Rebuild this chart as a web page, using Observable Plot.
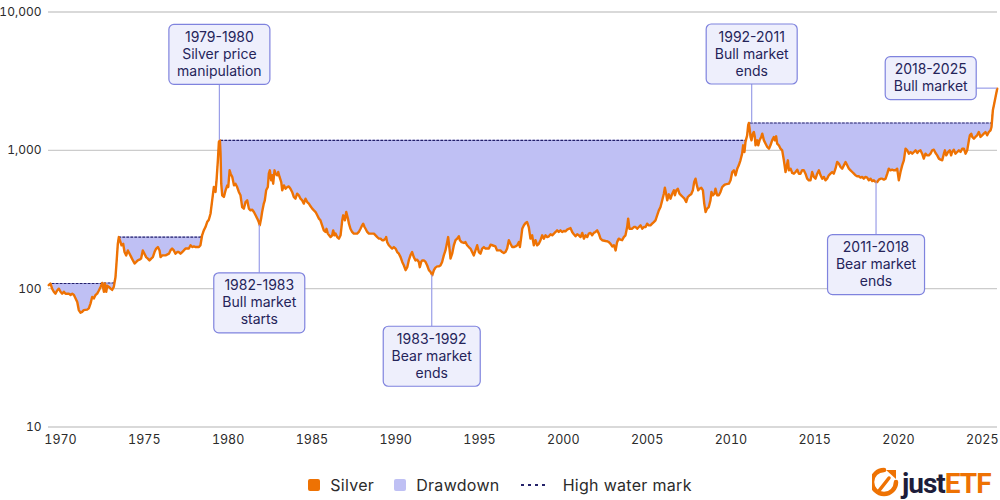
<!DOCTYPE html>
<html><head><meta charset="utf-8">
<script src="https://cdn.jsdelivr.net/npm/d3@7"></script>
<script src="https://cdn.jsdelivr.net/npm/@observablehq/plot@0.6"></script>
<style>
body{margin:0;background:#fff;font-family:Inter,"Noto Sans",sans-serif;}
#wrap{position:relative;width:1000px;height:500px;overflow:hidden;}
#legend{position:absolute;top:475px;left:0;width:1000px;display:flex;justify-content:center;align-items:center;font-size:16px;letter-spacing:0.3px;color:#2b2b2b;}
#legend .it{display:flex;align-items:center;margin:0 10px;}
#legend .sw{width:12px;height:12px;border-radius:2px;margin-right:10px;}
#logo{position:absolute;left:872px;top:466px;}
</style></head>
<body><div id="wrap"><div id="chart"></div>
<div id="legend">
 <div class="it"><div class="sw" style="background:#ee7203"></div>Silver</div>
 <div class="it"><div class="sw" style="background:#bfc0f4"></div>Drawdown</div>
 <div class="it"><svg width="26" height="12" style="margin-right:17px"><line x1="1" y1="6" x2="25" y2="6" stroke="#24226a" stroke-width="2" stroke-dasharray="3,4"/></svg>High water mark</div>
</div>
<div id="logo"><svg width="128" height="34">
 <path d="M12 4 A12 12 0 1 0 24 16" fill="none" stroke="#ee7203" stroke-width="4.5" stroke-linecap="round"/>
 <path d="M14 4 L24 4 L24 13 Z" fill="#ee7203"/>
 <path d="M6 26 L17 12" stroke="#ee7203" stroke-width="3.5" stroke-linecap="round"/>
 <text x="30" y="27" font-family="Roboto, sans-serif" font-weight="700" font-size="28" letter-spacing="-1" fill="#1d1d3a">just<tspan fill="#ee7203">ETF</tspan></text>
</svg></div>
</div>
<script>
const years = [
1969.30,1969.40,1969.50,1969.60,1969.70,1969.80,1969.90,1970.00,1970.10,1970.20,1970.30,1970.50,1970.60,1970.70,1970.80,1970.90,
1971.00,1971.09,1971.19,1971.29,1971.39,1971.59,1971.69,1971.79,1971.89,1971.99,1972.09,1972.19,1972.29,1972.39,1972.49,1972.59,
1972.65,1972.73,1972.79,1972.89,1972.99,1973.08,1973.18,1973.28,1973.34,1973.42,1973.48,1973.54,1973.64,1973.74,1973.82,1973.92,
1974.02,1974.12,1974.22,1974.32,1974.42,1974.52,1974.61,1974.71,1974.81,1974.91,1975.01,1975.11,1975.21,1975.31,1975.41,1975.51,
1975.61,1975.71,1975.81,1975.91,1975.97,1976.07,1976.27,1976.47,1976.56,1976.66,1976.76,1976.86,1976.96,1977.06,1977.16,1977.26,
1977.36,1977.46,1977.66,1977.76,1977.86,1977.96,1978.06,1978.26,1978.35,1978.45,1978.55,1978.65,1978.75,1978.85,1978.95,1979.05,
1979.15,1979.25,1979.31,1979.39,1979.45,1979.51,1979.55,1979.59,1979.65,1979.75,1979.85,1979.95,1980.01,1980.09,1980.15,1980.25,
1980.35,
1980.44,1980.54,1980.64,1980.74,1980.84,1980.94,1981.04,1981.14,1981.24,1981.34,1981.44,1981.54,1981.64,1981.74,1981.83,1981.89,
1981.97,1982.03,1982.13,1982.19,1982.27,1982.37,1982.43,1982.49,1982.57,1982.63,1982.69,1982.77,1982.83,1982.93,1982.99,1983.07,
1983.17,1983.23,1983.33,1983.43,1983.53,1983.62,1983.72,1983.82,1983.92,1984.02,1984.12,1984.22,1984.32,1984.42,1984.52,1984.62,
1984.72,1984.82,1984.92,1985.02,1985.12,1985.22,1985.32,1985.42,1985.51,1985.61,1985.71,1985.81,1985.87,1985.95,1986.11,1986.21,
1986.27,1986.35,1986.41,1986.51,1986.61,1986.71,1986.81,1986.87,1986.97,1987.05,1987.15,1987.21,1987.30,1987.40,1987.50,1987.60,
1987.70,1987.80,1987.90,1988.00,1988.06,1988.14,1988.20,1988.30,1988.40,1988.60,1988.70,1988.80,1988.90,1989.00,1989.10,1989.19,
1989.29,1989.39,1989.43,1989.49,1989.59,1989.69,1989.79,1989.89,1989.99,1990.09,1990.19,1990.29,1990.39,1990.49,1990.59,1990.69,
1990.78,1990.88,1990.98,1991.08,1991.18,1991.28,1991.38,1991.44,1991.52,1991.58,1991.68,1991.78,1991.88,1991.98,1992.08,
1992.18,1992.28,1992.37,1992.47,1992.57,1992.67,1992.77,1992.87,1992.97,1993.07,1993.13,1993.21,1993.27,1993.37,1993.47,1993.57,
1993.67,1993.77,1993.83,1993.93,1994.07,1994.16,1994.26,1994.36,1994.46,1994.56,1994.66,1994.76,1994.86,1994.96,1995.06,1995.16,
1995.26,1995.36,1995.46,1995.56,1995.66,1995.76,1995.95,1996.05,1996.15,1996.25,1996.35,1996.45,1996.55,1996.65,1996.75,1996.85,
1996.95,1997.05,1997.15,1997.25,1997.35,1997.41,1997.49,1997.55,1997.65,1997.75,1997.84,1997.94,1998.04,1998.14,1998.24,1998.34,
1998.44,1998.54,1998.64,1998.74,1998.84,1998.94,1999.04,1999.14,1999.24,1999.34,1999.44,1999.54,1999.63,1999.73,1999.83,1999.93,
2000.03,2000.13,2000.23,2000.33,2000.43,2000.53,2000.63,2000.73,2000.83,2000.93,2001.03,2001.13,2001.23,2001.33,2001.43,2001.52,
2001.62,2001.72,2001.82,2001.92,2002.02,2002.12,2002.22,2002.32,2002.52,2002.62,2002.72,2002.82,2002.92,2003.02,2003.12,2003.21,
2003.31,2003.41,2003.51,2003.61,2003.71,2003.81,2003.87,2003.95,2004.11,2004.21,2004.31,2004.41,2004.51,2004.61,2004.71,2004.81,
2004.91,2005.00,2005.10,2005.20,2005.30,2005.40,2005.50,2005.60,2005.70,2005.80,2005.90,2006.00,2006.06,2006.14,2006.20,2006.30,
2006.40,2006.50,2006.60,2006.66,2006.74,2006.83,2006.93,2007.03,2007.13,2007.23,2007.33,2007.43,2007.53,2007.63,2007.73,2007.81,
2007.89,2007.97,2008.05,2008.13,2008.23,2008.33,2008.41,2008.49,2008.58,2008.68,2008.78,2008.84,2008.92,2009.02,2009.08,2009.18,
2009.28,2009.38,2009.48,2009.58,2009.68,2009.88,2009.98,2010.08,2010.18,2010.28,2010.38,2010.47,2010.57,2010.67,2010.73,2010.81,
2010.87,2010.97,2011.03,2011.07,2011.13,2011.17,2011.23,2011.31,2011.37,2011.43,2011.47,2011.57,2011.63,2011.71,2011.81,2011.87,
2011.97,2012.07,2012.17,2012.27,2012.36,2012.46,2012.56,2012.62,2012.70,2012.76,2012.86,2012.96,2013.06,2013.16,2013.26,2013.32,
2013.40,2013.46,2013.56,2013.66,2013.76,2013.86,2013.96,2014.05,2014.15,2014.25,2014.35,2014.45,2014.55,2014.65,2014.75,
2014.85,2014.95,2015.05,2015.15,2015.25,2015.35,2015.45,2015.55,2015.64,2015.74,2015.84,2015.94,2016.04,2016.14,2016.24,2016.34,
2016.44,2016.54,2016.64,2016.74,2016.84,2016.94,2017.04,2017.14,2017.24,2017.34,2017.43,2017.53,2017.63,2017.73,2017.83,2017.93,
2018.03,2018.13,2018.23,2018.33,2018.43,2018.53,2018.63,2018.73,2018.83,2018.93,2019.03,2019.13,2019.23,2019.33,2019.42,2019.52,
2019.62,2019.72,2019.82,2019.92,2020.02,2020.12,2020.22,2020.32,2020.42,2020.52,2020.62,2020.72,2020.82,2020.92,2021.02,2021.12,
2021.21,2021.31,2021.41,2021.51,2021.61,2021.71,2021.81,2021.91,2022.01,2022.11,2022.21,2022.31,2022.41,2022.51,2022.61,2022.71,
2022.77,2022.85,2022.96,2023.06,2023.14,2023.20,2023.30,2023.40,2023.50,2023.60,2023.70,2023.80,2023.90,2024.00,2024.10,2024.20,
2024.26,2024.34,2024.40,2024.50,2024.59,2024.69,2024.79,2024.89,2024.99,2025.09,2025.19,2025.29,2025.39,2025.49,2025.55,2025.63,
2025.71,2025.79,2025.89];
const silver = [
106,109,100,95,92,97,100,95,92,95,92,92,90,92,90,85,
80,70,67,68,70,70.5,72,78,87,85,90,92,97,103,110,95,
109,95,105,103,100,98,103,121,152,211,236,224,206,211,184,174,
189,179,169,160,152,156,160,162,165,189,179,169,165,160,165,169,
184,195,200,189,169,174,174,179,189,195,189,179,184,184,179,184,
189,195,195,206,200,202,200,200,206,243,264,279,303,315,348,435,
543,500,607,847,1149,1181,946,574,473,460,514,558,543,717,678,642,
558,
574,543,500,473,389,379,423,435,379,368,372,358,339,321,303,287,
321,358,412,435,514,543,678,717,607,660,574,717,678,660,697,642,
590,514,558,528,543,549,528,500,460,447,486,473,447,435,412,447,
423,412,394,379,368,358,339,321,312,287,264,257,271,250,236,243,
264,243,250,236,230,243,312,339,312,358,321,295,271,257,250,250,
250,257,271,287,295,279,271,257,250,250,250,243,236,230,230,224,
224,230,236,217,206,200,195,200,195,184,179,169,156,147,136,143,
160,174,184,169,160,162,156,143,156,160,160,156,147,136,132,
125,136,142,145,145,147,156,174,189,217,236,194,165,179,206,224,
230,239,224,217,214,217,206,200,195,184,174,189,206,184,179,195,
200,195,195,195,208,206,202,189,189,189,184,181,184,195,224,211,
200,200,202,206,217,200,236,271,287,298,303,279,230,243,206,224,
206,211,224,243,230,243,236,239,247,243,250,257,264,257,264,257,
261,260,267,271,274,257,247,239,247,243,236,253,230,243,236,250,
253,243,253,257,264,250,230,224,221,220,217,211,202,206,189,217,
230,226,224,236,243,279,321,271,271,279,279,271,279,287,271,279,
279,295,287,287,295,303,312,339,368,389,435,486,537,481,435,481,
447,486,514,473,514,528,486,473,460,447,423,460,473,481,514,590,
624,558,514,528,537,514,412,358,379,389,435,500,473,486,528,473,
473,500,543,558,568,574,607,697,717,660,737,779,847,946,1087,973,
1149,1284,1516,1576,1395,1249,1181,1320,1357,1249,1087,1181,1087,1181,1249,1320,
1181,1117,1057,1028,1087,1181,1249,1181,1263,1117,1087,1028,1000,847,697,758,
847,717,737,686,678,697,725,678,678,717,717,678,624,607,607,
697,642,624,678,717,660,624,642,607,624,660,678,697,678,737,824,
801,758,737,779,824,779,737,717,697,678,660,649,649,635,642,624,
642,635,607,624,600,607,590,590,614,624,624,614,624,678,737,717,
725,717,717,737,607,697,779,847,1028,1000,946,973,946,973,1000,957,
989,1000,946,871,946,920,920,946,1000,1011,957,920,871,856,847,946,
1000,920,973,1000,920,973,1011,946,973,1000,973,1028,1028,946,1000,1181,
1284,1320,1249,1215,1249,1284,1357,1249,1284,1320,1357,1284,1357,1395,1475,1947,
2175,2430,2792];
const yTicks = [10, 100, 1000, 10000];
const xTicks = [1970, 1975, 1980, 1985, 1990, 1995, 2000, 2005, 2010, 2015, 2020, 2025];
const annoLabels = [
  ["1979-1980", "Silver price", "manipulation"],
  ["1982-1983", "Bull market", "starts"],
  ["1983-1992", "Bear market", "ends"],
  ["1992-2011", "Bull market", "ends"],
  ["2018-2025", "Bull market"],
  ["2011-2018", "Bear market", "ends"]
];
const annoYears = [1979.51, 1981.89, 1992.18, 2011.27, 2025.89, 2018.63];
const annoValues = [1181, 287, 125, 1576, 2792, 590];

// layout of annotation boxes (pixel offsets of box centre from anchor)
const annoLayout = [
  {dx: 0, dy: -85.5, side: "v"},
  {dx: 0, dy: 78, side: "v"},
  {dx: 0, dy: 81.5, side: "v"},
  {dx: 0, dy: -68.5, side: "v"},
  {dx: -66, dy: -10, side: "h"},
  {dx: 1, dy: 83, side: "v"}
];

let hw = -Infinity;
const data = years.map((t, i) => {
  hw = Math.max(hw, silver[i]);
  return {t, v: silver[i], hwm: hw};
});

const FONT = "Inter, 'Noto Sans', sans-serif";
const plot = Plot.plot({
  width: 1000, height: 455,
  marginLeft: 48, marginRight: 3, marginTop: 11.5, marginBottom: 28.5,
  style: {fontFamily: FONT, fontSize: "12.5px", color: "#2b2b2b", background: "white", overflow: "visible"},
  x: {domain: [1969.284, 2025.907], ticks: xTicks, tickFormat: d => String(d), label: null, tickSize: 0, tickPadding: 8},
  y: {type: "log", domain: [10, 10000], ticks: yTicks, tickFormat: d3.format(","), label: null, tickSize: 0, tickPadding: 7},
  marks: [
    Plot.ruleY(yTicks, {stroke: "#cccccc", strokeWidth: 1.4}),
    Plot.areaY(data, {x: "t", y1: "v", y2: "hwm", fill: "#bfc0f4"}),
    Plot.line(data, {x: "t", y: "hwm", stroke: "#23206b", strokeWidth: 1.1, strokeDasharray: "2,2"}),
    Plot.line(data, {x: "t", y: "v", stroke: "#ee7203", strokeWidth: 2.4, strokeLinejoin: "round"})
  ]
});
document.getElementById("chart").appendChild(plot);
d3.select(plot).selectAll('g[aria-label^="y-axis"] text').attr("font-size", 12).style("font-size", "12px");

const xs = plot.scale("x"), ys = plot.scale("y");
const svg = d3.select(plot);
const gC = svg.append("g");
const gB = svg.append("g");
annoLabels.forEach((lines, i) => {
  const ax = xs.apply(annoYears[i]), ay = ys.apply(annoValues[i]);
  const L = annoLayout[i];
  const cx = ax + L.dx, cy = ay + L.dy;
  const lh = 17;
  const g = gB.append("g");
  const rect = g.append("rect");
  const text = g.append("text")
    .attr("text-anchor", "middle")
    .attr("font-family", FONT).attr("font-size", 14).attr("fill", "#25245a");
  const h = lines.length * lh + 9;
  lines.forEach((s, j) => {
    text.append("tspan").attr("x", cx).attr("y", cy - h / 2 + 4.5 + j * lh + 13).text(s);
  });
  const w = Math.ceil(text.node().getBBox().width) + 16;
  rect.attr("x", cx - w / 2).attr("y", cy - h / 2).attr("width", w).attr("height", h)
    .attr("rx", 5).attr("fill", "#eeeffc").attr("stroke", "#7f83de").attr("stroke-width", 1.2);
  if (L.side === "v") {
    const edge = L.dy < 0 ? cy + h / 2 : cy - h / 2;
    gC.append("line").attr("x1", cx).attr("x2", cx).attr("y1", edge).attr("y2", ay)
      .attr("stroke", "#9a9ee8").attr("stroke-width", 1.2);
  } else {
    gC.append("line").attr("x1", cx + w / 2).attr("x2", ax).attr("y1", ay).attr("y2", ay)
      .attr("stroke", "#9a9ee8").attr("stroke-width", 1.2);
  }
});
</script>
</body></html>
